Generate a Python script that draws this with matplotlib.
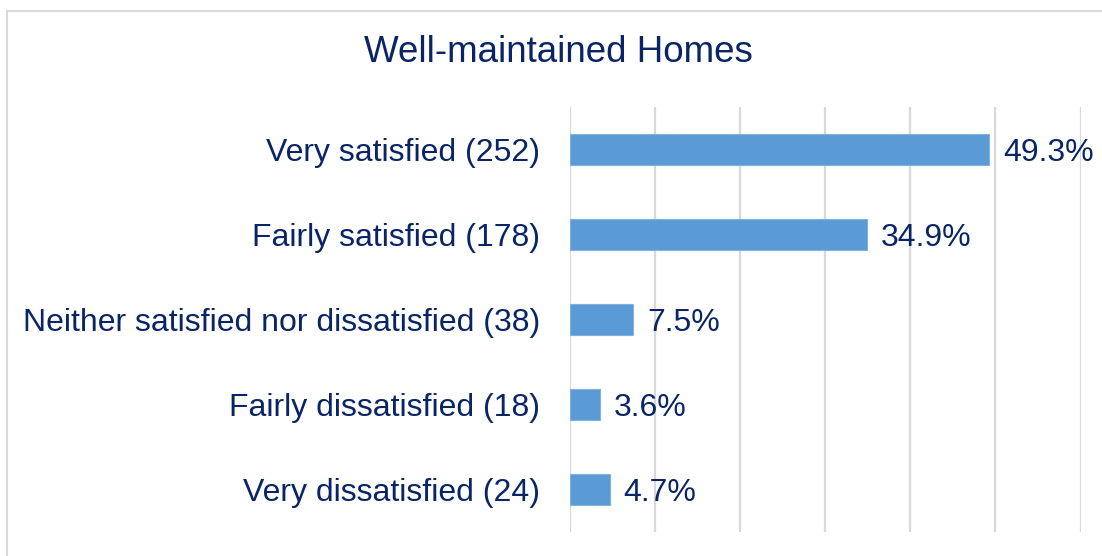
import matplotlib.pyplot as plt
from matplotlib.patches import Rectangle

categories = ['Very satisfied (252)', 'Fairly satisfied (178)',
              'Neither satisfied nor dissatisfied (38)',
              'Fairly dissatisfied (18)', 'Very dissatisfied (24)']
percent = [49.3, 34.9, 7.5, 3.6, 4.7]
xticks = [0, 10, 20, 30, 40, 50, 60]

navy = '#0A2566'
bar_col = '#5B9BD5'
grid_col = '#D9D9D9'

plt.rcParams['font.family'] = 'Liberation Sans'

fig = plt.figure(figsize=(11.02, 5.56), dpi=100)
W, H = 1102, 556
# chart border (runs off the right/bottom edge)
fig.patches.append(Rectangle((7 / W, -0.05), 1.2, 1 - 11 / H + 0.05, transform=fig.transFigure,
                             fill=False, edgecolor=grid_col, lw=1.5))

ax = fig.add_axes([569.5 / W, (556 - 531.7) / H, 511 / W, 425 / H])
ypos = list(range(len(categories)))
ax.barh(ypos, percent, height=0.36, color=bar_col, edgecolor='#7FB2E0', lw=0.8, zorder=3)
ax.set_xlim(xticks[0], xticks[-1])
ax.set_ylim(len(categories) - 0.5, -0.5)
ax.set_xticks(xticks)
ax.xaxis.grid(True, color=grid_col, lw=1.6, zorder=0)
ax.tick_params(axis='x', length=0, labelbottom=False)
ax.tick_params(axis='y', length=0, pad=21)
ax.set_yticks(ypos)
ax.set_yticklabels(categories, fontsize=23, color=navy)
for s in ax.spines.values():
    s.set_visible(False)

for y, v in zip(ypos, percent):
    ax.annotate(f'{v}%', (v, y), xytext=(14, -4), textcoords='offset pixels',
                va='center', ha='left', fontsize=23, color=navy, zorder=4)

fig.text(558 / W, 1 - 52 / H, 'Well-maintained Homes', ha='center', va='center',
         fontsize=26.5, color=navy)

fig.savefig('out.png', dpi=100)
